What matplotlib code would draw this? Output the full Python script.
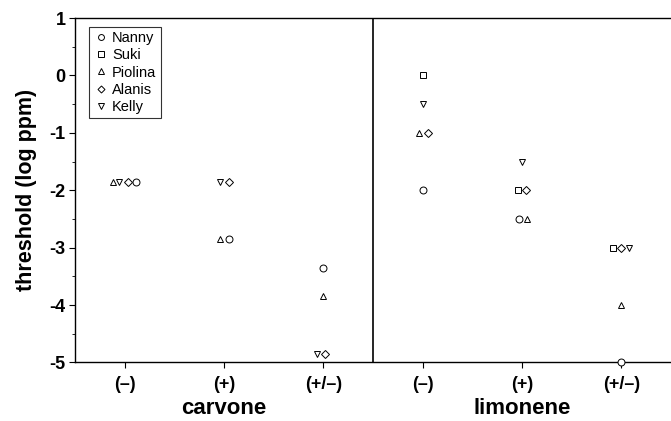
import numpy as np
import matplotlib
matplotlib.use("Agg")
import matplotlib.pyplot as plt

plt.rcParams['font.family'] = ['Liberation Sans', 'DejaVu Sans']

# data: thresholds (log ppm) for 6 conditions
conditions = ['(\u2013)', '(+)', '(+/\u2013)', '(\u2013)', '(+)', '(+/\u2013)']
groups = ['carvone', 'limonene']
subjects = ['Nanny', 'Suki', 'Piolina', 'Alanis', 'Kelly']
markers = ['o', 's', '^', 'D', 'v']

nanny = [-1.85, -2.85, -3.35, -2.0, -2.5, -5.0]
suki = [np.nan, np.nan, np.nan, 0.0, -2.0, -3.0]
piolina = [-1.85, -2.85, -3.85, -1.0, -2.5, -4.0]
alanis = [-1.85, -1.85, -4.85, -1.0, -2.0, -3.0]
kelly = [-1.85, -1.85, -4.85, -0.5, -1.5, -3.0]
values = [nanny, suki, piolina, alanis, kelly]

# small horizontal jitter so overlapping points stay visible
jitter = [
    [0.11, 0.05, 0.0, 0.0, -0.03, 0.0],
    [0.0, 0.0, 0.0, 0.0, -0.04, -0.08],
    [-0.12, -0.04, 0.0, -0.04, 0.05, 0.0],
    [0.03, 0.05, 0.02, 0.05, 0.04, 0.0],
    [-0.06, -0.04, -0.06, 0.0, 0.0, 0.08],
]

fig = plt.figure(figsize=(6.71, 4.21), dpi=100)
ax = fig.add_axes([0.112, 0.139, 0.888, 0.818])

x = np.arange(len(conditions))
for name, m, y, dx in zip(subjects, markers, values, jitter):
    ms = 4.2 if m == 'D' else 5
    ax.plot(x + np.array(dx), y, linestyle='none', marker=m, markersize=ms,
            markerfacecolor='white', markeredgecolor='black',
            markeredgewidth=0.7, label=name, clip_on=False, zorder=3)

ax.axvline(2.5, color='black', linewidth=1.2)

ax.set_xlim(-0.5, 5.5)
ax.set_ylim(-5, 1)
ax.set_xticks(x)
ax.set_xticklabels(conditions, fontsize=13, fontweight='bold')
ax.set_yticks(np.arange(-5, 2, 1))
ax.set_yticklabels([str(v) for v in range(-5, 2)], fontsize=13, fontweight='bold')
ax.set_yticks(np.arange(-4.5, 1, 1), minor=True)
ax.tick_params(axis='x', which='major', direction='out', length=4, width=0.8, pad=6)
ax.tick_params(axis='y', which='major', direction='out', length=4, width=0.8, pad=3)
ax.tick_params(axis='y', which='minor', direction='out', length=2.5, width=0.6)
ax.set_ylabel('threshold (log ppm)', fontsize=15.5, fontweight='bold', labelpad=9)

for s in ax.spines.values():
    s.set_linewidth(1.0)
ax.spines['right'].set_visible(False)

for i, g in enumerate(groups):
    ax.text(1 + 3 * i, -5.8, g, ha='center', va='center',
            fontsize=16, fontweight='bold')

leg = ax.legend(loc='upper left', bbox_to_anchor=(0.023, 0.975), fontsize=10.5,
                frameon=True, fancybox=False, edgecolor='black',
                borderpad=0.3, labelspacing=0.22, handletextpad=0.3,
                handlelength=1.0, borderaxespad=0.0, markerscale=0.85)
leg.get_frame().set_linewidth(0.8)

fig.savefig('out.png', dpi=100)
